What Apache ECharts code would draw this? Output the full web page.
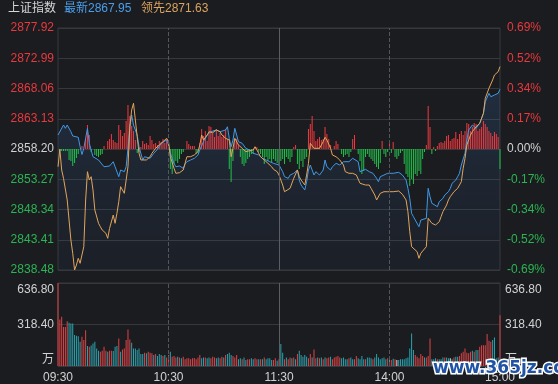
<!DOCTYPE html>
<html><head><meta charset="utf-8">
<script src="https://cdn.jsdelivr.net/npm/echarts@6/dist/echarts.min.js"></script>
<style>html,body{margin:0;padding:0;background:#1b1c20}#c{width:558px;height:384px}</style>
</head><body><div id="c"></div>
<script>
const indexName = '上证指数';
const latestLabel = '最新';
const leadLabel = '领先';
const timeLabels = ['09:30','10:30','11:30','14:00','15:00'];
const leftTicks = ['2838.48','2843.41','2848.34','2853.27','2858.20','2863.13','2868.06','2872.99','2877.92'];
const rightTicks = ['-0.69%','-0.52%','-0.34%','-0.17%','0.00%','0.17%','0.34%','0.52%','0.69%'];
const volTicks = ['万','318.40','636.80'];

// 最新 (index) line: [minute, price]
const latestLine = [[0,2860.48],[3,2862.11],[4,2861.57],[5,2862.11],[7,2861.02],[8,2860.32],[11,2860.11],[12,2858.57],[13,2857.30],[14,2858.31],[16,2861.57],[17,2859.13],[19,2856.94],[22,2856.41],[23,2856.41],[25,2855.31],[28,2855.43],[30,2856.13],[31,2855.31],[33,2853.69],[34,2854.78],[36,2854.50],[37,2855.31],[38,2858.31],[39,2861.83],[40,2863.74],[41,2862.11],[43,2860.48],[44,2858.57],[46,2856.41],[47,2856.94],[50,2856.68],[52,2857.50],[54,2858.15],[56,2859.13],[59,2859.67],
[60,2858.85],[61,2857.50],[63,2855.87],[64,2855.31],[66,2855.43],[68,2855.05],[69,2855.76],[70,2856.13],[72,2856.41],[74,2856.68],[76,2857.22],[77,2858.04],[79,2859.39],[80,2859.67],[81,2860.48],[83,2861.02],[84,2860.76],[86,2861.30],[88,2861.02],[89,2860.76],[91,2861.30],[92,2861.83],[93,2859.94],[94,2858.57],[95,2859.67],[96,2861.57],[97,2860.48],[98,2859.39],[100,2859.13],[102,2858.31],[104,2858.04],[106,2857.50],[107,2857.76],[109,2857.22],[111,2856.68],[113,2856.41],[115,2856.13],[117,2855.87],[118,2855.76],[120,2855.59],
[122,2854.50],[123,2853.69],[125,2853.42],[126,2853.96],[128,2854.24],[130,2854.78],[131,2853.15],[132,2852.33],[134,2851.52],[135,2852.87],[136,2854.78],[137,2855.59],[139,2853.96],[140,2854.50],[142,2853.96],[144,2854.78],[145,2856.41],[146,2855.31],[148,2854.78],[149,2855.31],[151,2855.87],[153,2855.59],[155,2856.13],[156,2856.41],[158,2856.13],[160,2856.68],[161,2856.94],[163,2856.13],[164,2854.50],[165,2854.78],[167,2854.89],[169,2854.50],[171,2854.24],[173,2853.42],[174,2852.87],[175,2853.69],[177,2853.96],[179,2854.24],
[182,2854.24],[183,2854.50],[185,2854.40],[187,2853.96],[189,2853.15],[190,2851.79],[191,2850.16],[192,2847.72],[193,2847.17],[194,2846.90],[196,2845.53],[197,2846.63],[198,2846.90],[200,2846.90],[201,2851.79],[202,2850.43],[203,2849.35],[204,2849.07],[206,2848.80],[207,2849.61],[209,2850.16],[210,2850.70],[212,2851.24],[213,2851.79],[214,2852.61],[216,2853.15],[217,2853.69],[218,2854.24],[219,2855.59],[221,2857.50],[222,2859.67],[223,2861.30],[225,2862.11],[226,2862.11],[227,2861.57],[229,2862.39],[231,2864.02],[232,2865.91],[234,2867.28],[235,2866.72],[237,2867.00],[239,2867.28],[240,2867.95]];

// 领先 line: [minute, price]
const leadLine = [[0,2855.31],[1,2858.15],[2,2854.78],[3,2853.42],[4,2853.69],[5,2849.89],[6,2846.63],[7,2843.37],[8,2841.20],[9,2838.48],[10,2839.29],[11,2840.38],[12,2839.57],[13,2839.67],[14,2842.28],[15,2849.89],[16,2854.50],[17,2853.15],[18,2853.69],[19,2851.52],[20,2848.26],[22,2846.09],[23,2845.53],[24,2845.00],[26,2844.46],[27,2843.64],[28,2845.27],[30,2847.44],[31,2846.09],[32,2847.72],[33,2849.61],[34,2852.06],[35,2851.79],[36,2850.98],[37,2853.15],[38,2855.31],[39,2861.83],[40,2864.56],[41,2865.65],[42,2862.93],[43,2860.20],[44,2857.50],[45,2856.41],[46,2856.13],[48,2856.41],[50,2856.94],[51,2857.50],[53,2858.31],[55,2858.85],[57,2859.39],[59,2859.94],
[60,2859.39],[61,2856.94],[63,2855.05],[64,2854.24],[66,2854.34],[68,2854.78],[69,2855.87],[70,2856.94],[72,2856.94],[74,2857.22],[76,2857.76],[77,2858.85],[78,2860.48],[79,2859.67],[81,2860.48],[82,2861.02],[84,2860.86],[86,2861.30],[88,2861.02],[89,2860.48],[91,2859.94],[93,2859.67],[94,2856.94],[95,2858.31],[96,2859.94],[97,2859.67],[98,2858.85],[100,2858.31],[102,2857.76],[104,2857.92],[106,2858.04],[107,2858.57],[108,2858.04],[110,2856.94],[112,2856.41],[114,2855.87],[116,2855.31],[117,2854.89],[119,2854.50],[120,2853.96],
[122,2852.33],[123,2851.24],[124,2850.98],[126,2851.79],[127,2851.79],[128,2853.42],[130,2854.78],[131,2853.69],[132,2853.15],[134,2852.33],[135,2853.96],[136,2855.87],[137,2859.13],[139,2858.31],[140,2858.57],[142,2858.31],[144,2859.39],[145,2860.11],[146,2859.67],[148,2858.31],[149,2857.22],[151,2856.94],[153,2856.41],[155,2855.59],[156,2854.50],[158,2854.24],[160,2854.24],[162,2853.96],[164,2852.61],[165,2852.33],[167,2852.33],[169,2852.33],[170,2851.79],[172,2850.70],[173,2849.89],[174,2849.61],[175,2850.98],[177,2851.24],[179,2851.24],
[182,2851.24],[183,2851.24],[185,2851.35],[187,2850.82],[189,2849.89],[190,2847.98],[191,2844.72],[192,2842.28],[193,2842.28],[195,2841.46],[196,2840.38],[197,2841.20],[198,2841.46],[200,2842.28],[201,2846.90],[202,2846.63],[203,2846.09],[205,2845.81],[207,2846.35],[208,2847.17],[209,2847.98],[211,2849.07],[212,2849.89],[213,2850.43],[215,2851.24],[217,2851.79],[219,2852.87],[220,2855.05],[221,2856.68],[222,2858.85],[224,2860.48],[225,2861.02],[227,2861.83],[228,2861.83],[229,2862.39],[231,2864.02],[232,2866.46],[234,2868.09],[235,2868.35],[236,2869.45],[237,2870.26],[239,2870.80],[240,2871.63]];

// buy/sell strength bars, one per minute
const strength = [
0,-2,-2,-2,-2,-2,-11,-12,-17,-14,
-9,-5,0,3,0,10,24,14,-3,0,
-6,-7,-8,-6,-5,3,0,8,10,15,
9,7,6,24,19,13,16,28,44,33,
23,18,9,-4,-3,2,8,5,6,4,
13,9,5,6,4,8,7,10,6,10,
4,-20,-25,-15,-12,-14,-10,-5,-3,0,
8,5,3,3,3,-5,-4,6,20,13,
18,8,23,22,16,12,20,13,16,12,
14,20,10,-20,-33,-12,8,10,4,-8,
-15,-17,-14,-10,-8,-5,-5,2,2,-3,
-5,-8,-15,-8,-12,-10,-13,-10,-12,-14,
-15,-12,-10,-15,-8,-10,-13,-8,2,4,
-15,-20,-12,-18,-10,-8,20,25,33,18,
8,10,12,9,10,22,15,10,4,0,
3,8,5,0,-5,-8,-6,-5,-8,-3,
10,14,0,-5,-12,-25,-22,-8,-5,-8,
-10,-12,-15,-18,-20,-14,8,-5,-8,-3,
7,-4,7,-8,-10,-7,-4,-2,-15,-25,
-28,-37,-30,-35,-25,-27,-22,-25,-10,-3,
4,43,22,-5,2,-2,3,6,7,6,
8,13,14,8,10,11,17,10,15,18,
14,18,26,25,18,22,26,25,18,20,
22,28,25,22,18,16,13,17,15,12,
-20];

// volume (万) per minute
const volume = [
636.8,
357,377,300,300,344,331,326,326,237,232,
229,186,224,199,275,153,148,158,173,186,
135,117,110,117,148,117,110,117,117,115,
148,153,211,110,127,135,199,280,204,178,
135,135,122,135,92,92,102,97,110,102,
97,84,92,76,92,84,76,84,66,84,
110,71,76,66,71,66,59,71,51,59,
59,51,59,61,51,66,84,59,66,66,
59,66,59,71,66,59,66,59,71,66,
84,92,102,84,76,66,84,51,59,51,
66,46,51,51,59,51,59,51,51,51,
51,66,51,59,59,46,46,59,41,51,
168,102,51,66,51,66,59,66,51,92,
117,84,71,84,71,59,92,66,127,59,
66,59,66,51,66,59,66,71,51,66,
71,76,66,59,66,51,51,59,66,51,
51,76,59,51,76,51,51,66,66,59,
51,66,92,66,51,59,66,51,59,51,
46,56,51,46,46,51,51,51,59,66,
135,250,122,84,71,59,92,76,66,66,
76,211,51,51,59,51,51,51,66,66,
66,59,59,51,66,71,71,76,97,110,
135,102,97,110,117,110,122,122,148,160,
160,160,245,194,186,199,219,59,66,390];

// 1 up, -1 down, 0 flat
const volDir = [
1,
1,1,1,1,1,-1,-1,-1,-1,-1,
-1,-1,1,1,1,-1,1,-1,-1,-1,
-1,-1,1,1,1,1,-1,1,1,-1,
-1,-1,1,-1,1,1,1,1,1,-1,
-1,-1,-1,-1,-1,-1,1,-1,1,1,
1,-1,1,-1,-1,-1,1,-1,1,1,
-1,1,1,1,-1,1,-1,1,1,1,
1,1,1,1,1,1,1,-1,-1,1,
-1,-1,1,1,1,-1,-1,1,1,-1,
1,-1,-1,-1,1,1,1,-1,-1,1,
-1,-1,1,1,-1,-1,1,1,-1,1,
-1,1,-1,-1,-1,-1,1,1,-1,1,
-1,-1,1,-1,1,1,-1,1,-1,1,
-1,-1,-1,-1,-1,1,1,-1,1,1,
-1,1,-1,1,-1,1,1,-1,1,1,
1,1,1,-1,-1,-1,-1,1,-1,-1,
1,1,-1,-1,-1,-1,1,-1,-1,-1,
1,-1,-1,-1,-1,-1,-1,-1,1,-1,
1,-1,1,0,-1,-1,-1,-1,-1,-1,
-1,-1,-1,1,1,1,1,1,-1,1,
1,1,-1,-1,-1,1,-1,-1,-1,1,
-1,-1,0,-1,1,-1,-1,1,1,1,
1,1,1,1,-1,1,-1,-1,1,1,
1,1,1,1,1,-1,-1,-1,-1,1];

const PRICE_MIN = 2838.48, PRICE_MAX = 2877.92, VOL_MAX = 636.8;
const FONT = "'Liberation Sans', 'Noto Sans CJK SC', sans-serif";
const RED = '#e8393d', GREEN = '#2bb552', GREY = '#d2d2d2';
const BAR_RED = '#f03a3e', BAR_GREEN = '#22c24a';
const VOL_RED = '#dc4446', VOL_TEAL = '#2ba3ad', VOL_FLAT = '#e8e8e8';
const GRID_C = '#37383d', VLINE_C = '#55565c';

const chart = echarts.init(document.getElementById('c'));

function tag(i){ return i > 4 ? 'r' : (i < 4 ? 'g' : 'n'); }
const richPrice = {
  r:{color:RED,fontSize:12,fontFamily:FONT},
  g:{color:GREEN,fontSize:12,fontFamily:FONT},
  n:{color:GREY,fontSize:12,fontFamily:FONT}
};
const richVol = {
  u:{color:GREY,fontSize:12,fontFamily:FONT,padding:[0,0,12,0]},
  m:{color:GREY,fontSize:12,fontFamily:FONT},
  t:{color:GREY,fontSize:12,fontFamily:FONT,padding:[14,0,0,0]}
};
function volFmt(v){
  const i = Math.round(v / (VOL_MAX/2));
  const k = i === 0 ? 'u' : (i === 2 ? 't' : 'm');
  return '{' + k + '|' + volTicks[i] + '}';
}
const vMarks = {
  silent:true, symbol:['none','none'], label:{show:false}, animation:false,
  data:[
    {xAxis:60, lineStyle:{type:'dashed',color:VLINE_C,width:1}},
    {xAxis:120, lineStyle:{type:'solid',color:'#5c5d63',width:1}},
    {xAxis:180, lineStyle:{type:'dashed',color:VLINE_C,width:1}}
  ]
};

const latestVal = latestLine[latestLine.length-1][1].toFixed(2);
const leadVal = leadLine[leadLine.length-1][1].toFixed(2);

const option = {
  backgroundColor:'#1b1c20',
  animation:false,
  graphic:[
    {type:'text', x:8, y:9, style:{text:indexName, fill:'#d6d6d6', fontSize:12, fontFamily:FONT, verticalAlign:'middle'}},
    {type:'text', x:64, y:9, style:{text:latestLabel + latestVal, fill:'#4a9fec', fontSize:12, fontFamily:FONT, verticalAlign:'middle'}},
    {type:'text', x:141, y:9, style:{text:leadLabel + leadVal, fill:'#dba35e', fontSize:12, fontFamily:FONT, verticalAlign:'middle'}},
    {type:'text', x:433, y:369, z:100, style:{text:'www.365jz.com', fill:'#1f53a6', stroke:'#ffffff', lineWidth:3, fontSize:17, fontWeight:'bold', fontFamily:"'DejaVu Sans', sans-serif", verticalAlign:'middle'}}
  ],
  grid:[
    {left:58, right:58, top:28, height:242, show:true, borderColor:GRID_C, borderWidth:1, backgroundColor:'transparent'},
    {left:58, right:58, top:283, height:83, show:true, borderColor:GRID_C, borderWidth:1, backgroundColor:'transparent'}
  ],
  xAxis:[
    {gridIndex:0, type:'value', min:0, max:240, interval:60, show:false},
    {gridIndex:1, type:'value', min:0, max:240, interval:60,
      axisLine:{show:false}, axisTick:{show:false}, splitLine:{show:false},
      axisLabel:{color:GREY, fontSize:12, fontFamily:FONT, margin:6,
        formatter:(v)=>timeLabels[Math.round(v/60)] || ''}}
  ],
  yAxis:[
    {gridIndex:0, type:'value', min:PRICE_MIN, max:PRICE_MAX, show:false},
    {gridIndex:0, type:'value', min:-121, max:121, show:false},
    {gridIndex:0, type:'value', min:0, max:8, interval:1, position:'left',
      axisLine:{show:false}, axisTick:{show:false},
      splitLine:{show:true, lineStyle:{color:GRID_C, width:1}},
      axisLabel:{margin:4, rich:richPrice, formatter:(v)=>{const i=Math.round(v);return '{'+tag(i)+'|'+leftTicks[i]+'}';}}},
    {gridIndex:0, type:'value', min:0, max:8, interval:1, position:'right',
      axisLine:{show:false}, axisTick:{show:false}, splitLine:{show:false},
      axisLabel:{margin:7, rich:richPrice, formatter:(v)=>{const i=Math.round(v);return '{'+tag(i)+'|'+rightTicks[i]+'}';}}},
    {gridIndex:1, type:'value', min:0, max:VOL_MAX, interval:VOL_MAX/2, position:'left',
      axisLine:{show:false}, axisTick:{show:false},
      splitLine:{show:true, lineStyle:{color:GRID_C, width:1}},
      axisLabel:{margin:4, rich:richVol, formatter:volFmt}},
    {gridIndex:1, type:'value', min:0, max:VOL_MAX, interval:VOL_MAX/2, position:'right',
      axisLine:{show:false}, axisTick:{show:false}, splitLine:{show:false},
      axisLabel:{margin:5, rich:richVol, formatter:volFmt}}
  ],
  series:[
    {type:'line', xAxisIndex:0, yAxisIndex:0, z:1, data:latestLine, showSymbol:false, silent:true,
      lineStyle:{opacity:0}, areaStyle:{origin:'start',
        color:new echarts.graphic.LinearGradient(0,0,0,1,[
          {offset:0,color:'rgba(60,125,200,0.26)'},
          {offset:1,color:'rgba(40,80,135,0.10)'}])},
      markLine:vMarks},
    {type:'bar', xAxisIndex:0, yAxisIndex:1, z:2, barWidth:1, silent:true,
      data:strength.map((v,i)=>({value:[i,v], itemStyle:{color: v>=0 ? BAR_RED : BAR_GREEN}}))},
    {type:'line', xAxisIndex:0, yAxisIndex:0, z:3, data:latestLine, showSymbol:false, silent:true,
      lineStyle:{color:'#3f98e6', width:1}},
    {type:'line', xAxisIndex:0, yAxisIndex:0, z:4, data:leadLine, showSymbol:false, silent:true,
      lineStyle:{color:'#e2a55c', width:1}},
    {type:'bar', xAxisIndex:1, yAxisIndex:4, z:2, barWidth:1, silent:true,
      data:volume.map((v,i)=>({value:[i,v], itemStyle:{color: volDir[i]>0 ? VOL_RED : (volDir[i]<0 ? VOL_TEAL : VOL_FLAT)}})),
      markLine:vMarks}
  ]
};
chart.setOption(option);
</script>
</body></html>
